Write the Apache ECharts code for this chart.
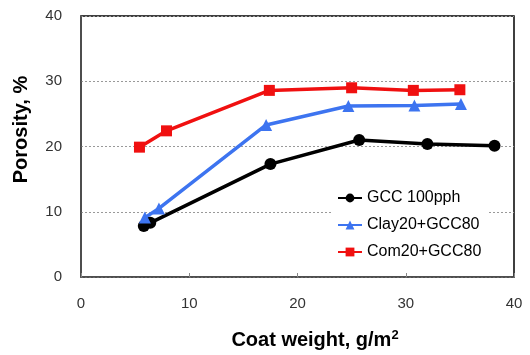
<!DOCTYPE html>
<html>
<head>
<meta charset="utf-8">
<script src="https://cdn.jsdelivr.net/npm/echarts@6/dist/echarts.min.js"></script>
<style>
  html, body { margin: 0; padding: 0; background: #fff; }
  #chart { width: 530px; height: 355px; }
</style>
</head>
<body>
<div id="chart"></div>
<script>
// values
const gccX = [5.8, 6.4, 17.5, 25.7, 32.0, 38.2];
const gccY = [7.8, 8.3, 17.3, 21.0, 20.4, 20.1];

const clayX = [5.9, 7.2, 17.1, 24.7, 30.8, 35.1];
const clayY = [9.1, 10.5, 23.3, 26.2, 26.3, 26.5];

const comX = [5.4, 7.9, 17.4, 25.0, 30.7, 35.0];
const comY = [19.9, 22.4, 28.6, 29.0, 28.6, 28.7];

const seriesNames = ['GCC 100pph', 'Clay20+GCC80', 'Com20+GCC80'];
const xTicks = [0, 10, 20, 30, 40];
const yTicks = [0, 10, 20, 30, 40];

function pairs(xs, ys) {
  return xs.map((x, i) => [x, ys[i]]);
}

const chart = echarts.init(document.getElementById('chart'), null, { renderer: 'canvas' });

const font = 'Arial, "Liberation Sans", sans-serif';

function lineSeries(name, data, color, symbol, size) {
  return {
    name,
    type: 'line',
    data,
    symbol,
    symbolSize: size,
    color,
    lineStyle: { color, width: 3.5 },
    itemStyle: { color },
    z: 3
  };
}

chart.setOption({
  animation: false,
  backgroundColor: '#fff',
  grid: {
    left: 81, right: 16, top: 16, bottom: 76,
    show: true,
    borderColor: '#000',
    borderWidth: 1.5,
    backgroundColor: 'transparent'
  },
  xAxis: {
    type: 'value',
    min: xTicks[0], max: xTicks[xTicks.length - 1], interval: 10,
    name: 'Coat weight, g/m{sup|2}',
    nameLocation: 'middle',
    nameGap: 52,
    nameTextStyle: {
      fontFamily: font, fontWeight: 'bold', fontSize: 20, color: '#000',
      padding: [0, 0, 0, 35],
      rich: {
        sup: { fontFamily: font, fontWeight: 'bold', fontSize: 13, color: '#000', verticalAlign: 'top', padding: [0, 0, 9, 0] }
      }
    },
    axisLine: { lineStyle: { color: '#555', width: 1.5 } },
    axisTick: { show: true, inside: true, length: 4, lineStyle: { color: '#888' } },
    axisLabel: { fontFamily: font, fontSize: 15, color: '#333', margin: 19 },
    splitLine: { show: false }
  },
  yAxis: {
    type: 'value',
    min: yTicks[0], max: yTicks[yTicks.length - 1], interval: 10,
    name: 'Porosity, %',
    nameLocation: 'middle',
    nameGap: 50,
    nameTextStyle: {
      fontFamily: font, fontWeight: 'bold', fontSize: 20, color: '#000',
      padding: [0, 0, 0, 34]
    },
    axisLine: { show: true, lineStyle: { color: '#555', width: 1.5 } },
    axisTick: { show: false },
    axisLabel: { fontFamily: font, fontSize: 15, color: '#333', margin: 19 },
    splitLine: { show: true, lineStyle: { color: '#999', type: [2, 2], width: 1 } }
  },
  legend: {
    orient: 'vertical',
    left: 331,
    top: 186,
    padding: [4, 6, 4, 6],
    backgroundColor: '#fff',
    itemWidth: 24,
    itemHeight: 11,
    itemGap: 11,
    textStyle: { fontFamily: font, fontSize: 16, color: '#000' },
    data: seriesNames
  },
  series: [
    lineSeries(seriesNames[0], pairs(gccX, gccY), '#000000', 'circle', 12),
    lineSeries(seriesNames[1], pairs(clayX, clayY), '#3d74f0', 'triangle', 12),
    lineSeries(seriesNames[2], pairs(comX, comY), '#f01010', 'rect', 11)
  ]
});
</script>
</body>
</html>
